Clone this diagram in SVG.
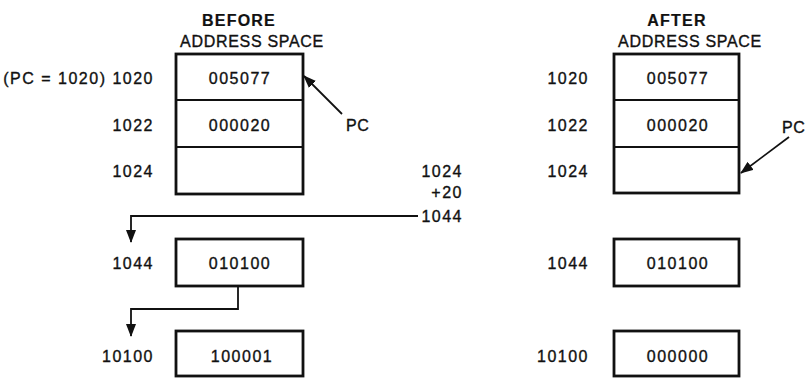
<svg xmlns="http://www.w3.org/2000/svg" width="809" height="378" viewBox="0 0 809 378">
<style>
  .t { font-family: "Liberation Sans", Arial, Helvetica, sans-serif; font-size: 16px; letter-spacing: 1.5px; fill: #111; stroke: #111; stroke-width: 0.35px; }
  .m { text-anchor: middle; }
  .e { text-anchor: end; }
  .h { font-weight: bold; letter-spacing: 1.2px; stroke-width: 0.2px; }
  .a { letter-spacing: 0.7px; }
  .n { letter-spacing: 0.5px; }
  .box { fill: #fff; stroke: #111; stroke-width: 2.8; }
  .div { stroke: #111; stroke-width: 1.8; fill: none; }
  .conn { stroke: #111; stroke-width: 1.8; fill: none; }
</style>
<defs>
  <marker id="ah" markerWidth="13" markerHeight="10" refX="12" refY="5" orient="auto" markerUnits="userSpaceOnUse">
    <path d="M0,0 L13,5 L0,10 Z" fill="#111"/>
  </marker>
</defs>

<rect width="809" height="378" fill="#fff"/>

<!-- BEFORE -->
<g id="before-header">
  <text class="t m h" x="239" y="26">BEFORE</text>
  <text class="t m a" x="252" y="47">ADDRESS SPACE</text>
</g>
<g id="before-memory">
  <rect class="box" x="176" y="54" width="127" height="140"/>
  <line class="div" x1="176" y1="100" x2="303" y2="100"/>
  <line class="div" x1="176" y1="147" x2="303" y2="147"/>
  <text class="t m" x="240" y="84">005077</text>
  <text class="t m" x="240" y="131">000020</text>
</g>
<g id="before-labels">
  <text class="t e" x="154" y="84">(PC = 1020) 1020</text>
  <text class="t e" x="154" y="131">1022</text>
  <text class="t e" x="154" y="177">1024</text>
  <text class="t e" x="154" y="269">1044</text>
  <text class="t e" x="154" y="362">10100</text>
  <text class="t n" x="346" y="131">PC</text>
</g>
<g id="before-1044">
  <rect class="box" x="176" y="239" width="127" height="47"/>
  <text class="t m" x="240" y="269">010100</text>
</g>
<g id="before-10100">
  <rect class="box" x="176" y="331" width="127" height="45"/>
  <text class="t m" x="242" y="362">100001</text>
</g>

<!-- calculation -->
<g id="calc">
  <text class="t e" x="463" y="177">1024</text>
  <text class="t e" x="463" y="198">+20</text>
  <text class="t e" x="463" y="222">1044</text>
</g>

<!-- AFTER -->
<g id="after-header">
  <text class="t m h" x="677" y="26">AFTER</text>
  <text class="t m a" x="690" y="47">ADDRESS SPACE</text>
</g>
<g id="after-memory">
  <rect class="box" x="614" y="54" width="125" height="139"/>
  <line class="div" x1="614" y1="100" x2="739" y2="100"/>
  <line class="div" x1="614" y1="147" x2="739" y2="147"/>
  <text class="t m" x="678" y="84">005077</text>
  <text class="t m" x="678" y="131">000020</text>
</g>
<g id="after-labels">
  <text class="t e" x="589" y="84">1020</text>
  <text class="t e" x="589" y="131">1022</text>
  <text class="t e" x="589" y="177">1024</text>
  <text class="t e" x="589" y="269">1044</text>
  <text class="t e" x="589" y="362">10100</text>
  <text class="t n" x="782" y="133">PC</text>
</g>
<g id="after-1044">
  <rect class="box" x="614" y="239" width="125" height="47"/>
  <text class="t m" x="678" y="269">010100</text>
</g>
<g id="after-10100">
  <rect class="box" x="614" y="331" width="125" height="45"/>
  <text class="t m" x="678" y="362">000000</text>
</g>

<!-- connectors -->
<g id="connectors">
  <path class="conn" d="M418,216 H131 V242" marker-end="url(#ah)"/>
  <path class="conn" d="M238,286 V309 H131 V336" marker-end="url(#ah)"/>
  <line class="conn" x1="342" y1="114" x2="304" y2="76" marker-end="url(#ah)"/>
  <line class="conn" x1="789" y1="137" x2="741" y2="173" marker-end="url(#ah)"/>
</g>
</svg>
